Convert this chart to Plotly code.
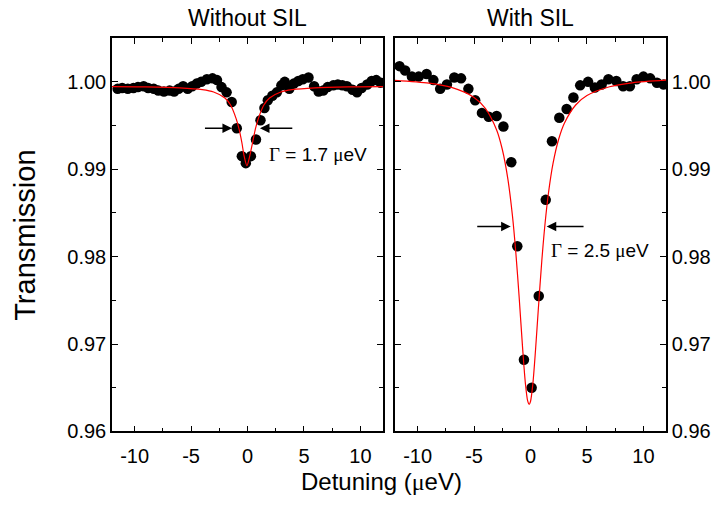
import plotly.graph_objects as go

# ---- data ----
left_x = [-11.5, -11.1, -10.6, -10.1, -9.7, -9.2, -8.8, -8.3, -7.9, -7.4, -6.9, -6.5, -6.1, -5.7,
          -5.3, -4.9, -4.5, -4.1, -3.6, -3.1, -2.7, -2.3, -1.85, -1.4, -0.95, -0.5, -0.15, 0.3,
          0.75, 1.15, 1.5, 1.8, 2.2, 2.6, 3.0, 3.3, 3.7, 4.1, 4.5, 4.9, 5.4, 5.9, 6.3, 6.7, 7.1,
          7.6, 8.0, 8.4, 8.8, 9.3, 9.7, 10.1, 10.6, 11.0, 11.4, 11.8]
left_y = [0.9992, 0.9993, 0.9992, 0.9993, 0.9994, 0.9995, 0.9993, 0.9992, 0.9990, 0.9989, 0.9990,
          0.9989, 0.9992, 0.9995, 0.9992, 0.9995, 0.9998, 1.0000, 1.0003, 1.0004, 1.0002, 0.9994,
          0.9988, 0.9977, 0.9947, 0.9915, 0.9907, 0.9915, 0.9934, 0.9956, 0.9970, 0.9979, 0.9984,
          0.9988, 0.9996, 1.0000, 0.9992, 0.9998, 1.0001, 1.0003, 1.0005, 0.9995, 0.9989, 0.9990,
          0.9994, 0.9996, 0.9997, 0.9996, 0.9995, 0.9991, 0.9988, 0.9993, 0.9997, 1.0001, 1.0002,
          0.9999]

left_fit_x = [-12, -9, -6, -4, -3, -2, -1.5, -1, -0.75, -0.5, -0.3, -0.05, 0.2, 0.45, 0.7, 0.95,
              1.45, 1.95, 2.95, 3.95, 5.95, 8.95, 12]
left_fit_y = [0.99945, 0.99942, 0.99932, 0.99911, 0.99884, 0.99815, 0.99735, 0.99577, 0.99462,
              0.99306, 0.99153, 0.99040, 0.99153, 0.99306, 0.99462, 0.99577, 0.99735, 0.99815,
              0.99884, 0.99911, 0.99932, 0.99942, 0.99945]

right_x = [-11.6, -11.1, -10.5, -9.9, -9.2, -8.6, -8.0, -7.4, -6.75, -6.15, -5.5, -4.9, -4.3, -3.7,
           -3.0, -2.4, -1.7, -1.17, -0.58, 0.1, 0.73, 1.35, 1.9, 2.55, 3.2, 3.8, 4.4, 5.1, 5.7,
           6.3, 6.9, 7.6, 8.2, 8.8, 9.4, 10.0, 10.6, 11.2, 11.8]
right_y = [1.0018, 1.0013, 1.0006, 1.0006, 1.0009, 1.0002, 0.9992, 0.9997, 1.0005, 1.0004, 0.9992,
           0.9979, 0.99645, 0.9960, 0.9961, 0.9949, 0.9908, 0.9812, 0.9682, 0.9650, 0.9755,
           0.9865, 0.9932, 0.9959, 0.9969, 0.9982, 0.9996, 1.0000, 0.99935, 0.9997, 1.0003,
           1.0001, 0.9995, 0.9995, 1.0003, 1.0006, 1.0004, 0.9999, 0.9997]

right_fit_x = [-12, -9, -7, -5, -4, -3, -2.5, -2, -1.6, -1.3, -1, -0.7, -0.45, -0.25, -0.12, 0.0,
               0.2, 0.45, 0.7, 1, 1.3, 1.6, 2, 2.5, 3, 4, 5, 7, 9, 12]
right_fit_y = [1.00018, 0.99985, 0.99936, 0.99822, 0.99697, 0.99450, 0.99229, 0.98885, 0.98470,
               0.98047, 0.97526, 0.96956, 0.96547, 0.96349, 0.96310, 0.96343, 0.96534, 0.96940,
               0.97413, 0.97950, 0.98393, 0.98737, 0.99070, 0.99346, 0.99527, 0.99735, 0.99843,
               0.99944, 0.99989, 1.00019]

x_tickvals = [-10, -5, 0, 5, 10]
x_ticktext = ["-10", "-5", "0", "5", "10"]
y_tickvals = [0.96, 0.97, 0.98, 0.99, 1.00]
y_ticktext = ["0.96", "0.97", "0.98", "0.99", "1.00"]

panel_titles = ["Without SIL", "With SIL"]
SERIF = "Liberation Serif, Times New Roman, serif"
gamma_labels = [
    f'<span style="font-family:{SERIF}">Γ</span> = 1.7 <span style="font-family:{SERIF}">μ</span>eV',
    f'<span style="font-family:{SERIF}">Γ</span> = 2.5 <span style="font-family:{SERIF}">μ</span>eV',
]
x_title = f'Detuning (<span style="font-family:{SERIF}">μ</span>eV)'
y_title = "Transmission"

FONT = "Liberation Sans, Arial, sans-serif"

fig = go.Figure()
fig.add_trace(go.Scatter(x=left_x, y=left_y, mode="markers", xaxis="x", yaxis="y",
                         marker=dict(color="black", size=10.5), showlegend=False))
fig.add_trace(go.Scatter(x=left_fit_x, y=left_fit_y, mode="lines", xaxis="x", yaxis="y",
                         line=dict(color="red", width=1.2, shape="spline", smoothing=0.8),
                         showlegend=False))
fig.add_trace(go.Scatter(x=right_x, y=right_y, mode="markers", xaxis="x2", yaxis="y2",
                         marker=dict(color="black", size=10.5), showlegend=False))
fig.add_trace(go.Scatter(x=right_fit_x, y=right_fit_y, mode="lines", xaxis="x2", yaxis="y2",
                         line=dict(color="red", width=1.2, shape="spline", smoothing=0.8),
                         showlegend=False))

xcommon = dict(range=[-12, 12], tickmode="array", tickvals=x_tickvals, ticktext=x_ticktext,
               ticks="inside", ticklen=6, tickwidth=1.3, ticklabelstandoff=6,
               tickcolor="black", showline=True, linecolor="black", linewidth=1.5,
               mirror="ticks", showgrid=False, zeroline=False,
               tickfont=dict(family=FONT, size=20, color="black"),
               minor=dict(ticks="inside", ticklen=4, dtick=2.5, tick0=0, tickcolor="black",
                          tickwidth=1.3, showgrid=False))
ycommon = dict(range=[0.96, 1.005], tickmode="array", tickvals=y_tickvals, ticktext=y_ticktext,
               ticks="inside", ticklen=6, tickwidth=1.3, tickcolor="black", showline=True,
               linecolor="black", linewidth=1.5, mirror="ticks", showgrid=False,
               zeroline=False, tickfont=dict(family=FONT, size=20, color="black"),
               minor=dict(ticks="inside", ticklen=4, dtick=0.005, tick0=0.96,
                          tickcolor="black", tickwidth=1.3, showgrid=False))

L0, L1 = 112 / 718, 383 / 718
R0, R1 = 395 / 718, 666 / 718
B0, B1 = 67 / 508, 469 / 508

fig.update_layout(
    width=718, height=508,
    margin=dict(l=0, r=0, t=0, b=0),
    paper_bgcolor="white", plot_bgcolor="white",
    font=dict(family=FONT, color="black"),
    xaxis=dict(domain=[L0, L1], anchor="y", **xcommon),
    yaxis=dict(domain=[B0, B1], anchor="x", side="left", **ycommon),
    xaxis2=dict(domain=[R0, R1], anchor="y2", **xcommon),
    yaxis2=dict(domain=[B0, B1], anchor="x2", side="right", **ycommon),
)

ann = []
# panel titles
ann.append(dict(text=panel_titles[0], x=(L0 + L1) / 2, y=1 - 18 / 508, xref="paper", yref="paper",
                showarrow=False, font=dict(family=FONT, size=23), xanchor="center", yanchor="middle"))
ann.append(dict(text=panel_titles[1], x=(R0 + R1) / 2, y=1 - 18 / 508, xref="paper", yref="paper",
                showarrow=False, font=dict(family=FONT, size=23), xanchor="center", yanchor="middle"))
# axis titles
ann.append(dict(text=x_title, x=381 / 718, y=1 - 492 / 508, xref="paper", yref="paper",
                showarrow=False, font=dict(family=FONT, size=24), xanchor="center", yanchor="middle"))
ann.append(dict(text=y_title, x=25 / 718, y=1 - 241 / 508, xref="paper", yref="paper",
                showarrow=False, font=dict(family=FONT, size=29), textangle=-90,
                xanchor="center", yanchor="middle"))
# width arrows, left panel
for tip, tail in [(-1.37, -3.9), (1.1, 4.1)]:
    ann.append(dict(x=tip, y=0.9947, ax=tail, ay=0.9947, xref="x", yref="y", axref="x", ayref="y",
                    text="", showarrow=True, arrowhead=2, arrowsize=1.2, arrowwidth=1.6,
                    arrowcolor="black"))
for tip, tail in [(-1.75, -4.85), (1.43, 4.83)]:
    ann.append(dict(x=tip, y=0.98345, ax=tail, ay=0.98345, xref="x2", yref="y2", axref="x2",
                    ayref="y2", text="", showarrow=True, arrowhead=2, arrowsize=1.2,
                    arrowwidth=1.6, arrowcolor="black"))
ann.append(dict(text=gamma_labels[0], x=1.77, y=0.99173, xref="x", yref="y", showarrow=False,
                font=dict(family=FONT, size=19), xanchor="left", yanchor="middle"))
ann.append(dict(text=gamma_labels[1], x=1.67, y=0.98066, xref="x2", yref="y2", showarrow=False,
                font=dict(family=FONT, size=19), xanchor="left", yanchor="middle"))
fig.update_layout(annotations=ann)

fig.write_html("out.html")
